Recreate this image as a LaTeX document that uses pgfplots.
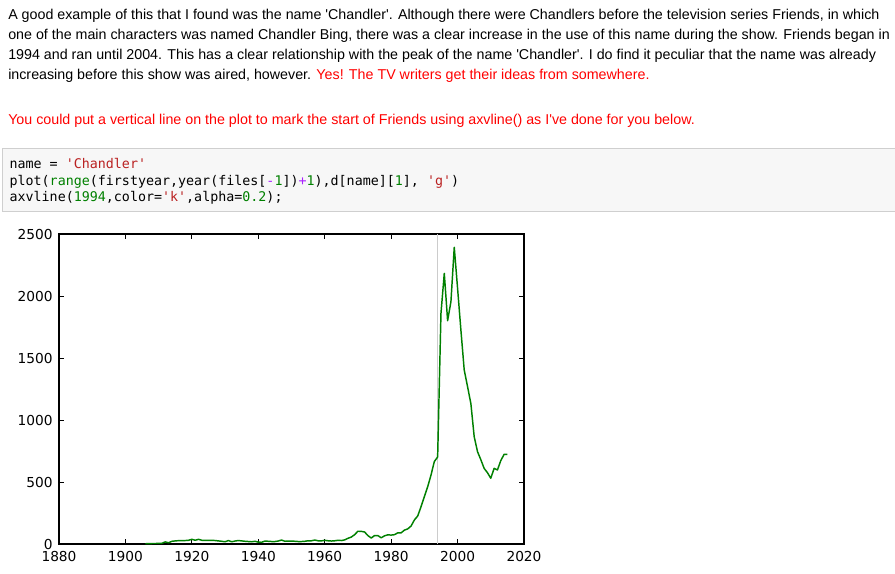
\documentclass[border=0pt]{standalone}
\usepackage{pgfplots}
\pgfplotsset{compat=1.18}
\usepackage{pgfplotstable}
\usepackage{fontspec}
\setmainfont{Liberation Sans}[Ligatures=TeXOff]
\newfontfamily\codefont{DejaVu Sans Mono}[Ligatures=TeXOff]
\newfontfamily\tickfont{DejaVu Sans}
\definecolor{nbred}{HTML}{FF0000}
\definecolor{cstr}{HTML}{BA2121}
\definecolor{cgreen}{HTML}{008000}
\definecolor{cop}{HTML}{AA22FF}
\definecolor{codebg}{HTML}{F7F7F7}
\definecolor{codeborder}{HTML}{CFCFCF}
\definecolor{mplgreen}{HTML}{008000}

\pgfplotstableread{
year count
1906 2
1907 3
1908 4
1909 4
1910 5
1911 6
1912 17
1913 10
1914 22
1915 25
1916 27
1917 27
1918 28
1919 30
1920 38
1921 30
1922 38
1923 30
1924 29
1925 30
1926 30
1927 28
1928 25
1929 22
1930 18
1931 28
1932 18
1933 24
1934 28
1935 25
1936 22
1937 20
1938 18
1939 22
1940 15
1941 14
1942 24
1943 22
1944 20
1945 20
1946 24
1947 32
1948 22
1949 24
1950 24
1951 22
1952 20
1953 20
1954 22
1955 26
1956 26
1957 32
1958 26
1959 25
1960 30
1961 26
1962 24
1963 26
1964 30
1965 28
1966 33
1967 46
1968 56
1969 75
1970 103
1971 102
1972 97
1973 68
1974 48
1975 68
1976 68
1977 50
1978 66
1979 74
1980 72
1981 75
1982 90
1983 90
1984 112
1985 122
1986 145
1987 194
1988 226
1989 301
1990 382
1991 462
1992 556
1993 665
1994 702
1995 1860
1996 2183
1997 1801
1998 1954
1999 2393
2000 2062
2001 1726
2002 1403
2003 1269
2004 1134
2005 866
2006 745
2007 680
2008 610
2009 575
2010 530
2011 610
2012 597
2013 672
2014 723
2015 723
}\chandler

\begin{document}
\begin{tikzpicture}
\path[use as bounding box] (0,0) rectangle (671.25pt,-430.5pt);
% markdown text
\begingroup
\fontsize{10.7pt}{15pt}\selectfont
\node[anchor=base west, inner sep=0pt] at (6pt,-14.5pt) {A good example of this that I found was the name 'Chandler'. Although there were Chandlers before the television series Friends, in which};
\node[anchor=base west, inner sep=0pt] at (6pt,-29.5pt) {one of the main characters was named Chandler Bing, there was a clear increase in the use of this name during the show. Friends began in};
\node[anchor=base west, inner sep=0pt] at (6pt,-44.5pt) {1994 and ran until 2004. This has a clear relationship with the peak of the name 'Chandler'. I do find it peculiar that the name was already};
\node[anchor=base west, inner sep=0pt] at (6pt,-59.5pt) {increasing before this show was aired, however. \textcolor{nbred}{Yes! The TV writers get their ideas from somewhere.}};
\node[anchor=base west, inner sep=0pt, text=nbred] at (6pt,-93.75pt) {You could put a vertical line on the plot to mark the start of Friends using axvline() as I've done for you below.};
\endgroup
% code cell
\draw[codeborder, fill=codebg, line width=0.75pt] (2pt,-111.2pt) rectangle (675pt,-158.8pt);
\begingroup
\codefont\fontsize{10pt}{13pt}\selectfont
\node[anchor=base west, inner sep=0pt] at (7pt,-126.2pt) {name = \textcolor{cstr}{'Chandler'}};
\node[anchor=base west, inner sep=0pt] at (7pt,-139.3pt) {plot(\textcolor{cgreen}{range}(firstyear,year(files[\textcolor{cop}{-}\textcolor{cgreen}{1}])\textcolor{cop}{+}\textcolor{cgreen}{1}),d[name][\textcolor{cgreen}{1}], \textcolor{cstr}{'g'})};
\node[anchor=base west, inner sep=0pt] at (7pt,-151.3pt) {axvline(\textcolor{cgreen}{1994},color=\textcolor{cstr}{'k'},alpha=\textcolor{cgreen}{0.2});};
\endgroup
% plot
\begin{axis}[
  at={(44.25pt,-408pt)}, anchor=south west,
  scale only axis, width=348.75pt, height=232.5pt,
  xmin=1880, xmax=2020, ymin=0, ymax=2500,
  xtick={1880,1900,...,2020}, ytick={0,500,...,2500},
  tick align=inside, major tick length=4pt,
  axis line style={black, line width=0.9pt},
  tick style={black, line width=0.6pt},
  /pgf/number format/assume math mode=true,
  /pgf/number format/1000 sep={},
  ticklabel style={font=\tickfont\fontsize{10.3pt}{12pt}\selectfont},
  xticklabel style={anchor=north, inner sep=0pt, yshift=-5.6pt},
  yticklabel style={anchor=east, inner sep=0pt, xshift=-4.6pt},
]
\addplot[black!20, line width=0.8pt, forget plot] coordinates {(1994,0) (1994,2500)};
\addplot[mplgreen, line width=1.1pt, line join=round] table[x=year, y=count] {\chandler};
\end{axis}
\end{tikzpicture}
\end{document}
